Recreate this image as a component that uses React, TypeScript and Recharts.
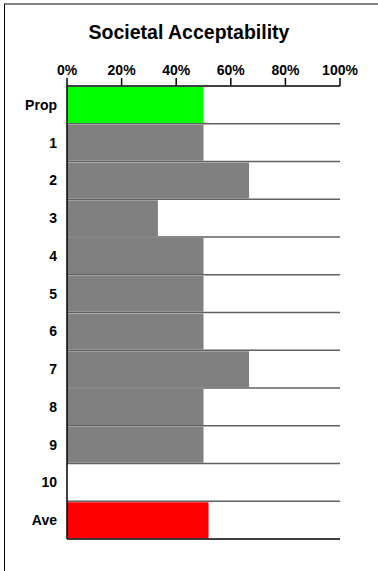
import { BarChart, Bar, XAxis, YAxis, CartesianGrid, Cell } from "recharts";

const categories = ["Prop", "1", "2", "3", "4", "5", "6", "7", "8", "9", "10", "Ave"];
const scores = [0.5, 0.5, 0.667, 0.333, 0.5, 0.5, 0.5, 0.667, 0.5, 0.5, 0, 0.5185];
const barColors = ["#00ff00", "#808080", "#808080", "#808080", "#808080", "#808080", "#808080", "#808080", "#808080", "#808080", "#808080", "#ff0000"];
const pctTicks = [0, 0.2, 0.4, 0.6, 0.8, 1];

const data = categories.map((name, i) => ({ name, value: scores[i] }));

const font = "Arial, 'Liberation Sans', Helvetica, sans-serif";

// row separators sit between categories, not at their centres
const rowLines = ({ offset }: any) => {
  const n = categories.length;
  return Array.from({ length: n - 1 }, (_, i) => offset.top + ((i + 1) * offset.height) / n);
};

export default function App() {
  return (
    <div style={{ position: "absolute", left: 0, top: 0, width: 378, height: 571, background: "#fff", fontFamily: font }}>
      <div style={{ position: "absolute", left: 4, top: 3, right: 0, bottom: 0, borderLeft: "1px solid #000", borderTop: "2px solid #808080" }} />
      <div style={{ position: "absolute", left: 0, top: 21, width: 378, textAlign: "center", fontWeight: "bold", fontSize: 19.5, color: "#000" }}>
        Societal Acceptability
      </div>
      <div style={{ position: "absolute", left: 0, top: 0 }}>
        <BarChart width={378} height={571} data={data} layout="vertical" margin={{ top: 0, right: 38, bottom: 0, left: 0 }} barCategoryGap={1}>
          <CartesianGrid horizontal vertical={false} stroke="#606060" strokeWidth={1.5} horizontalCoordinatesGenerator={rowLines} />
          <XAxis
            type="number"
            orientation="top"
            domain={[0, 1]}
            ticks={pctTicks}
            tickFormatter={(v: number) => `${Math.round(v * 100)}%`}
            height={86}
            tickSize={8}
            tickMargin={3}
            axisLine={{ stroke: "#000", strokeWidth: 1.5 }}
            tickLine={{ stroke: "#000", strokeWidth: 1.5 }}
            tick={{ fill: "#000", fontSize: 14, fontWeight: "bold", fontFamily: font }}
            interval={0}
          />
          <XAxis xAxisId="base" type="number" orientation="bottom" domain={[0, 1]} height={32} tick={false} tickLine={false} axisLine={{ stroke: "#000", strokeWidth: 1.5 }} />
          <YAxis
            type="category"
            dataKey="name"
            width={67}
            tickSize={0}
            tickMargin={10}
            axisLine={{ stroke: "#000", strokeWidth: 1.5 }}
            tickLine={false}
            tick={{ fill: "#000", fontSize: 14, fontWeight: "bold", fontFamily: font }}
            interval={0}
          />
          <Bar dataKey="value" isAnimationActive={false}>
            {data.map((d, i) => (
              <Cell key={d.name} fill={barColors[i]} />
            ))}
          </Bar>
        </BarChart>
      </div>
    </div>
  );
}
